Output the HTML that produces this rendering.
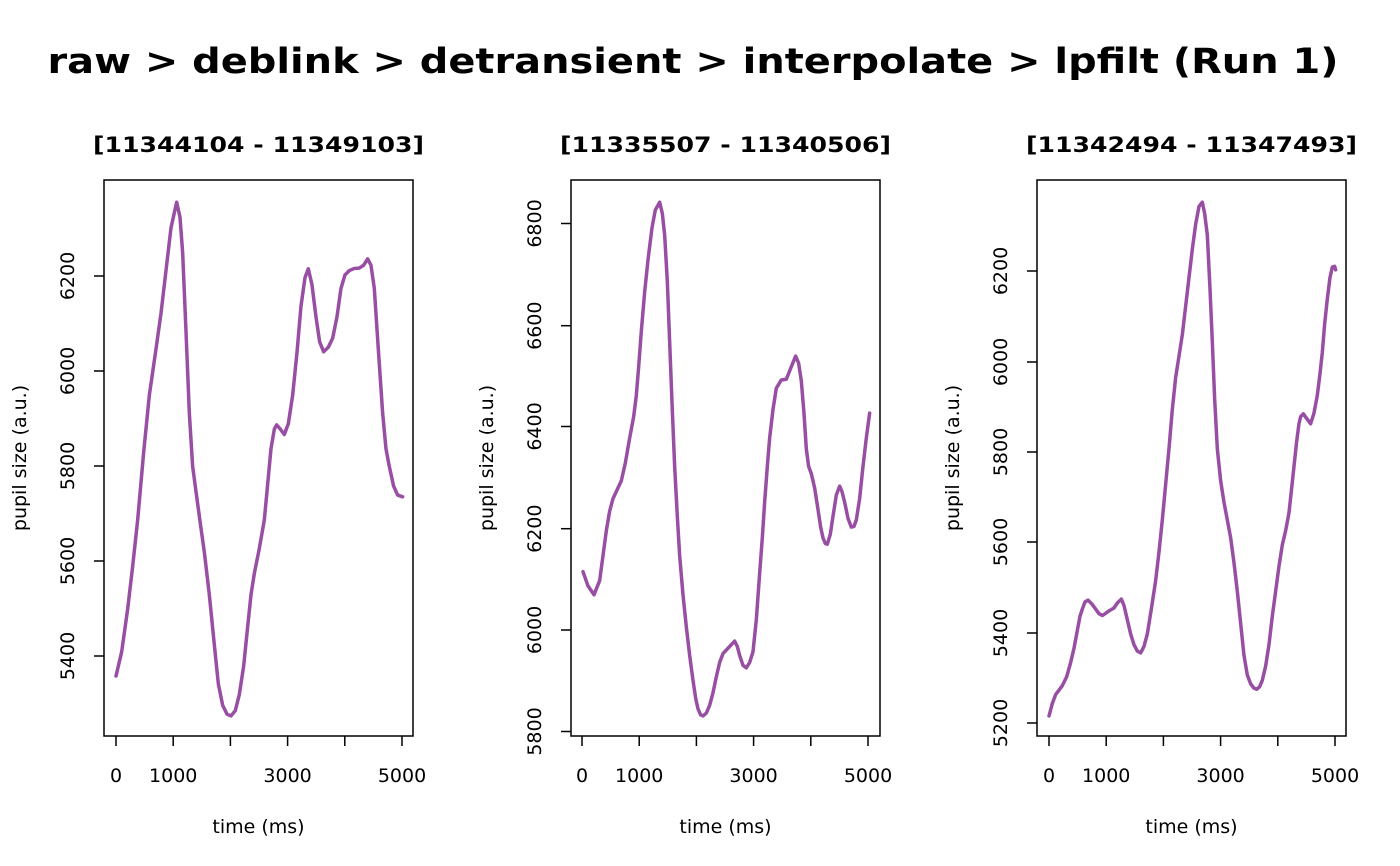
<!DOCTYPE html>
<html><head><meta charset="utf-8"><style>
html,body{margin:0;padding:0;background:#fff;}
svg{display:block;}
text{font-family:"DejaVu Sans","Liberation Sans",sans-serif;fill:#000;}
</style></head><body>
<svg width="1400" height="866" viewBox="0 0 1400 866" xmlns="http://www.w3.org/2000/svg">
<rect width="1400" height="866" fill="#fff"/>
<text x="693" y="73" font-size="35" font-weight="bold" text-anchor="middle" textLength="1291" lengthAdjust="spacingAndGlyphs">raw &gt; deblink &gt; detransient &gt; interpolate &gt; lpfilt (Run 1)</text>

<!-- Panel 1 -->
<g>
<text x="258.5" y="152" font-size="21" font-weight="bold" text-anchor="middle" textLength="331" lengthAdjust="spacingAndGlyphs">[11344104 - 11349103]</text>
<rect x="104" y="180" width="309" height="556" fill="none" stroke="#000" stroke-width="1.5"/>
<g stroke="#000" stroke-width="1.5">
<line x1="116" y1="736" x2="116" y2="746"/><line x1="173.2" y1="736" x2="173.2" y2="746"/><line x1="230.4" y1="736" x2="230.4" y2="746"/><line x1="287.6" y1="736" x2="287.6" y2="746"/><line x1="344.8" y1="736" x2="344.8" y2="746"/><line x1="402" y1="736" x2="402" y2="746"/>
<line x1="94" y1="656" x2="104" y2="656"/><line x1="94" y1="561" x2="104" y2="561"/><line x1="94" y1="466" x2="104" y2="466"/><line x1="94" y1="371" x2="104" y2="371"/><line x1="94" y1="276" x2="104" y2="276"/>
</g>
<g font-size="19" text-anchor="middle">
<text x="116" y="782">0</text><text x="173.2" y="782">1000</text><text x="287.6" y="782">3000</text><text x="402" y="782">5000</text>
<text transform="translate(74,656) rotate(-90)">5400</text>
<text transform="translate(74,561) rotate(-90)">5600</text>
<text transform="translate(74,466) rotate(-90)">5800</text>
<text transform="translate(74,371) rotate(-90)">6000</text>
<text transform="translate(74,276) rotate(-90)">6200</text>
<text x="258.5" y="833">time (ms)</text>
<text transform="translate(26,458) rotate(-90)">pupil size (a.u.)</text>
</g>
<g transform="translate(101,181.5) scale(0.3333,0.3563)">
<polyline fill="none" stroke="#984ea3" stroke-width="3.5" vector-effect="non-scaling-stroke" stroke-linejoin="round" stroke-linecap="round" points="45,1388 62,1320 80,1200 95,1080 110,950 128,760 145,600 165,470 180,370 195,250 210,130 227,58 237,100 245,200 255,420 265,650 275,800 285,870 298,960 310,1040 325,1160 340,1300 352,1410 365,1470 378,1495 390,1500 403,1485 415,1440 428,1360 440,1250 450,1160 460,1100 475,1030 490,950 500,850 510,750 520,695 527,683 538,695 550,710 562,680 575,600 588,480 600,350 612,270 622,245 633,290 645,380 656,450 668,478 682,465 695,440 708,380 720,300 732,262 745,250 760,244 775,243 788,235 800,217 810,235 820,300 832,470 845,650 855,750 865,800 878,855 890,880 905,885"/>
</g>
</g>

<!-- Panel 2 -->
<g>
<text x="725.5" y="152" font-size="21" font-weight="bold" text-anchor="middle" textLength="331" lengthAdjust="spacingAndGlyphs">[11335507 - 11340506]</text>
<rect x="571" y="180" width="309" height="556" fill="none" stroke="#000" stroke-width="1.5"/>
<g stroke="#000" stroke-width="1.5">
<line x1="582" y1="736" x2="582" y2="746"/><line x1="639.2" y1="736" x2="639.2" y2="746"/><line x1="696.4" y1="736" x2="696.4" y2="746"/><line x1="753.6" y1="736" x2="753.6" y2="746"/><line x1="810.8" y1="736" x2="810.8" y2="746"/><line x1="868" y1="736" x2="868" y2="746"/>
<line x1="561" y1="731.5" x2="571" y2="731.5"/><line x1="561" y1="630" x2="571" y2="630"/><line x1="561" y1="528.7" x2="571" y2="528.7"/><line x1="561" y1="426.5" x2="571" y2="426.5"/><line x1="561" y1="325.7" x2="571" y2="325.7"/><line x1="561" y1="223.5" x2="571" y2="223.5"/>
</g>
<g font-size="19" text-anchor="middle">
<text x="582" y="782">0</text><text x="639.2" y="782">1000</text><text x="753.6" y="782">3000</text><text x="868" y="782">5000</text>
<text transform="translate(541,731.5) rotate(-90)">5800</text>
<text transform="translate(541,630) rotate(-90)">6000</text>
<text transform="translate(541,528.7) rotate(-90)">6200</text>
<text transform="translate(541,426.5) rotate(-90)">6400</text>
<text transform="translate(541,325.7) rotate(-90)">6600</text>
<text transform="translate(541,223.5) rotate(-90)">6800</text>
<text x="725.5" y="833">time (ms)</text>
<text transform="translate(493,458) rotate(-90)">pupil size (a.u.)</text>
</g>
<g transform="translate(568,181.5) scale(0.3333,0.3563)">
<polyline fill="none" stroke="#984ea3" stroke-width="3.5" vector-effect="non-scaling-stroke" stroke-linejoin="round" stroke-linecap="round" points="45,1095 60,1135 78,1160 95,1120 105,1050 115,980 125,925 135,890 160,840 172,790 185,720 197,660 205,600 212,520 220,420 230,310 240,220 252,130 262,80 275,58 283,90 290,150 298,280 305,450 312,620 320,800 328,940 335,1050 345,1160 355,1250 365,1330 375,1400 383,1450 390,1480 398,1497 405,1500 415,1492 425,1470 435,1435 445,1390 455,1350 465,1325 480,1310 490,1300 500,1290 508,1305 515,1330 525,1358 535,1365 545,1350 555,1320 565,1230 575,1100 583,1000 590,900 598,800 605,720 615,640 625,580 640,557 655,555 670,520 683,490 692,510 700,560 708,650 715,750 722,800 730,820 740,860 750,920 758,970 765,1000 772,1016 778,1018 787,990 795,940 805,880 815,855 822,870 830,900 840,945 850,970 858,968 865,950 875,890 885,800 895,720 905,650"/>
</g>
</g>

<!-- Panel 3 -->
<g>
<text x="1191.5" y="152" font-size="21" font-weight="bold" text-anchor="middle" textLength="331" lengthAdjust="spacingAndGlyphs">[11342494 - 11347493]</text>
<rect x="1037" y="180" width="309" height="556" fill="none" stroke="#000" stroke-width="1.5"/>
<g stroke="#000" stroke-width="1.5">
<line x1="1049" y1="736" x2="1049" y2="746"/><line x1="1106.2" y1="736" x2="1106.2" y2="746"/><line x1="1163.4" y1="736" x2="1163.4" y2="746"/><line x1="1220.6" y1="736" x2="1220.6" y2="746"/><line x1="1277.8" y1="736" x2="1277.8" y2="746"/><line x1="1335" y1="736" x2="1335" y2="746"/>
<line x1="1027" y1="723" x2="1037" y2="723"/><line x1="1027" y1="633" x2="1037" y2="633"/><line x1="1027" y1="542" x2="1037" y2="542"/><line x1="1027" y1="452" x2="1037" y2="452"/><line x1="1027" y1="362" x2="1037" y2="362"/><line x1="1027" y1="271" x2="1037" y2="271"/>
</g>
<g font-size="19" text-anchor="middle">
<text x="1049" y="782">0</text><text x="1106.2" y="782">1000</text><text x="1220.6" y="782">3000</text><text x="1335" y="782">5000</text>
<text transform="translate(1007,723) rotate(-90)">5200</text>
<text transform="translate(1007,633) rotate(-90)">5400</text>
<text transform="translate(1007,542) rotate(-90)">5600</text>
<text transform="translate(1007,452) rotate(-90)">5800</text>
<text transform="translate(1007,362) rotate(-90)">6000</text>
<text transform="translate(1007,271) rotate(-90)">6200</text>
<text x="1191.5" y="833">time (ms)</text>
<text transform="translate(959,458) rotate(-90)">pupil size (a.u.)</text>
</g>
<g transform="translate(1034,181.5) scale(0.3333,0.3563)">
<polyline fill="none" stroke="#984ea3" stroke-width="3.5" vector-effect="non-scaling-stroke" stroke-linejoin="round" stroke-linecap="round" points="45,1500 55,1465 65,1440 85,1415 98,1390 110,1350 120,1310 130,1260 138,1220 145,1200 153,1180 162,1175 173,1185 185,1200 195,1213 205,1218 215,1212 225,1205 240,1197 250,1183 262,1172 270,1190 280,1230 290,1270 300,1300 310,1318 320,1323 330,1305 340,1270 352,1200 365,1120 375,1040 385,950 395,850 405,750 415,640 425,550 435,490 445,430 455,350 465,270 475,190 485,120 495,70 505,58 512,90 520,150 528,300 535,450 542,610 550,750 560,840 570,900 580,950 590,1000 600,1070 610,1150 620,1240 630,1330 640,1385 650,1410 660,1422 668,1425 677,1418 685,1400 695,1360 705,1300 715,1220 725,1150 735,1080 745,1020 755,980 765,930 772,870 780,800 788,730 795,680 800,660 808,652 818,665 830,680 840,650 850,600 858,540 865,480 872,400 880,330 888,270 895,240 902,238 905,248"/>
</g>
</g>
</svg>
</body></html>
